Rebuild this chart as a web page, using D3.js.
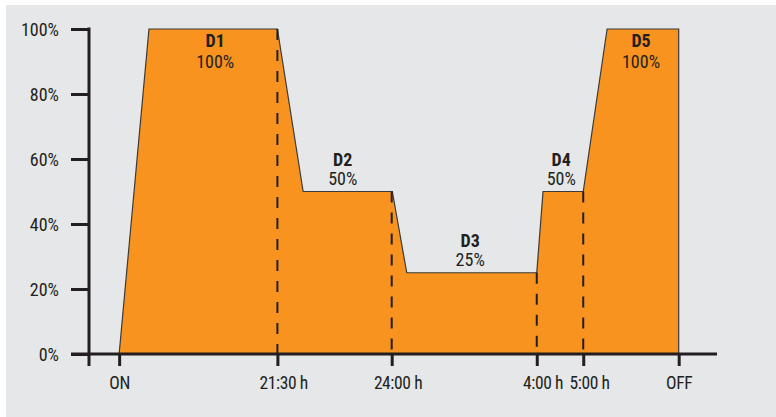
<!DOCTYPE html>
<html>
<head>
<meta charset="utf-8">
<script src="https://cdn.jsdelivr.net/npm/d3@7"></script>
<style>
  html, body { margin: 0; padding: 0; background: #ffffff; }
  svg { display: block; }
  text { font-family: "Liberation Sans Narrow", "Roboto Condensed", "DejaVu Sans Condensed", "Arial Narrow", sans-serif; fill: #231f20; }
</style>
</head>
<body>
<svg id="chart" width="776" height="417"></svg>
<script>
// ---- data (schematic time units along the x axis, level in %) ----
const profileX = [4.8, 9.55, 30.0, 34.1, 48.3, 50.6, 71.3, 72.3, 78.7, 82.5, 93.9, 93.9];
const profileY = [0, 100, 100, 50, 50, 25, 25, 50, 50, 100, 100, 0];

const tickPos    = [4.8, 30.0, 48.2, 71.3, 78.7, 93.9];
const tickLabels = ["ON", "21:30 h", "24:00 h", "4:00 h", "5:00 h", "OFF"];

// dashed markers at switch times, and the level they reach
const markerX     = [30.0, 48.2, 71.3, 78.7];
const markerLevel = [100, 50, 25, 50];

const yTicks = [0, 20, 40, 60, 80, 100];

const stepNames  = ["D1", "D2", "D3", "D4", "D5"];
const stepLevels = [100, 50, 25, 50, 100];
const stepLabelX = [20.1, 40.4, 60.7, 75.2, 87.9];

// ---- layout ----
const svg = d3.select("#chart");
const W = 776, H = 417;
const x = d3.scaleLinear().domain([0, 100]).range([89, 717]);
const y = d3.scaleLinear().domain([0, 100]).range([354, 29]);
const ink = "#231f20";
const orange = "#f7931e";

svg.append("rect").attr("x", 6).attr("y", 5).attr("width", W - 6).attr("height", H - 5).attr("fill", "#e6e7e8");

// area profile
const pts = profileX.map((v, i) => [v, profileY[i]]);
const area = d3.area().x(d => x(d[0])).y0(y(0)).y1(d => y(d[1]));
svg.append("path").datum(pts).attr("d", area).attr("fill", orange);
const line = d3.line().x(d => x(d[0])).y(d => y(d[1]));
svg.append("path").datum(pts).attr("d", line).attr("fill", "none")
  .attr("stroke", "#3a3a3a").attr("stroke-width", 1.2).attr("stroke-linejoin", "miter");

// dashed markers
svg.selectAll("line.marker").data(markerX).join("line")
  .attr("class", "marker")
  .attr("x1", d => x(d)).attr("x2", d => x(d))
  .attr("y1", (d, i) => y(markerLevel[i])).attr("y2", y(0))
  .attr("stroke", ink).attr("stroke-width", 2).attr("stroke-dasharray", "11,10");

// step labels: above the plateau, or inside it when the plateau is at the top
const inside = lvl => lvl >= 100;
const lab = svg.selectAll("g.lab").data(stepNames).join("g").attr("class", "lab");
lab.append("text")
  .attr("x", (d, i) => x(stepLabelX[i]))
  .attr("y", (d, i) => y(stepLevels[i]) + (inside(stepLevels[i]) ? 18 : -26))
  .attr("text-anchor", "middle").attr("font-size", 18).attr("font-weight", "bold")
  .text(d => d);
lab.append("text")
  .attr("x", (d, i) => x(stepLabelX[i]))
  .attr("y", (d, i) => y(stepLevels[i]) + (inside(stepLevels[i]) ? 39 : -7))
  .attr("text-anchor", "middle").attr("font-size", 18)
  .text((d, i) => stepLevels[i] + "%");

// y axis
const yAxis = d3.axisLeft(y).tickValues(yTicks).tickFormat(d => d + "%")
  .tickSize(18).tickSizeOuter(0).tickPadding(12);
const gy = svg.append("g").attr("transform", `translate(${x(0)},0)`).call(yAxis);
gy.select(".domain").remove();
gy.selectAll(".tick line").attr("stroke", ink).attr("stroke-width", 3);
gy.selectAll(".tick text").attr("font-size", 18).attr("fill", ink).attr("dy", "0.36em");
svg.append("line").attr("x1", x(0)).attr("x2", x(0)).attr("y1", y(100) - 1.5).attr("y2", y(0) + 12)
  .attr("stroke", ink).attr("stroke-width", 3);

// x axis
const xAxis = d3.axisBottom(x).tickValues(tickPos).tickFormat((d, i) => tickLabels[i])
  .tickSize(12).tickSizeOuter(0).tickPadding(11);
const gx = svg.append("g").attr("transform", `translate(0,${y(0)})`).call(xAxis);
gx.select(".domain").remove();
gx.selectAll(".tick line").attr("stroke", ink).attr("stroke-width", 3);
gx.selectAll(".tick text").attr("font-size", 17.5).attr("letter-spacing", -0.4).attr("fill", ink)
  .each(function () {
    // centre the time itself on the tick; the " h" unit hangs to the right
    const t = d3.select(this);
    const full = t.text();
    const core = full.replace(/ h$/, "");
    t.text(core);
    const w = this.getComputedTextLength();
    t.text(full).attr("text-anchor", "start").attr("x", -w / 2);
  });
svg.append("line").attr("x1", x(0) - 18).attr("x2", x(100)).attr("y1", y(0)).attr("y2", y(0))
  .attr("stroke", ink).attr("stroke-width", 3);
</script>
</body>
</html>
